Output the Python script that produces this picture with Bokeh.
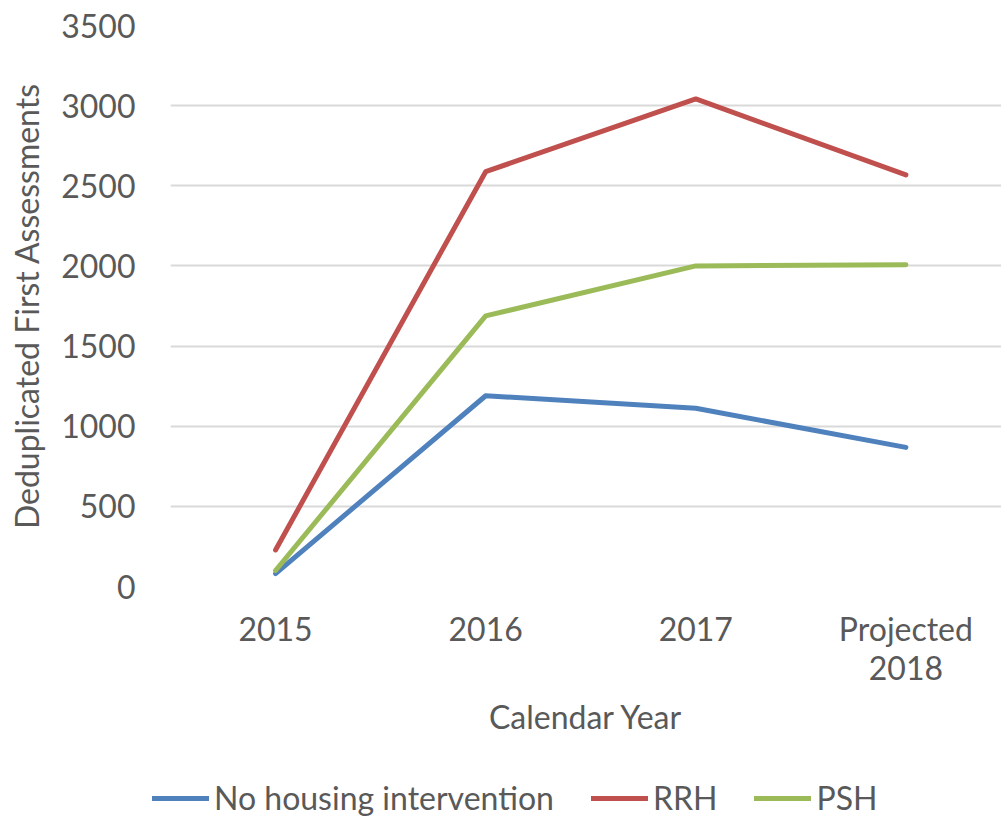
from bokeh.plotting import figure
from bokeh.layouts import column
from bokeh.models import Range1d, Legend, LegendItem, FixedTicker
from bokeh.embed import file_html
from bokeh.resources import INLINE

categories = ["2015", "2016", "2017", "Projected\n2018"]
no_housing = [80, 1190, 1112, 868]
rrh = [228, 2588, 3042, 2568]
psh = [100, 1688, 2000, 2007]
series_names = ["No housing intervention", "RRH", "PSH"]
colors = ["#4F81BD", "#C0504D", "#9BBB59"]
y_ticks = [0, 500, 1000, 1500, 2000, 2500, 3000, 3500]

FONT = "Lato"
TXT = "#595959"
FS = "32px"
xs = list(range(len(categories)))
series = [no_housing, rrh, psh]

p = figure(width=1001, height=754, output_backend="svg", toolbar_location=None,
           x_range=Range1d(-0.5, 3.455), y_range=Range1d(0, 3500),
           min_border_left=170, min_border_right=0, min_border_top=25,
           min_border_bottom=168)
p.outline_line_color = None
p.background_fill_color = "white"
p.border_fill_color = "white"
p.frame_align = False

p.xgrid.grid_line_color = None
p.ygrid.grid_line_color = "#D9D9D9"
p.ygrid.grid_line_width = 2

p.yaxis.ticker = FixedTicker(ticks=y_ticks)
p.xaxis.ticker = FixedTicker(ticks=xs)
p.xaxis.major_label_overrides = {i: c for i, c in enumerate(categories)}
for ax in (p.xaxis[0], p.yaxis[0]):
    ax.axis_line_color = None
    ax.major_tick_line_color = None
    ax.minor_tick_line_color = None
    ax.major_label_text_font = FONT
    ax.major_label_text_font_size = FS
    ax.major_label_text_color = TXT
    ax.axis_label_text_font = FONT
    ax.axis_label_text_font_size = FS
    ax.axis_label_text_color = TXT
    ax.axis_label_text_font_style = "normal"

p.yaxis.major_label_standoff = 29
p.xaxis.major_label_standoff = 16
p.xaxis.major_label_text_line_height = 1.0
p.yaxis.axis_label = "Deduplicated First Assessments"
p.yaxis.axis_label_standoff = 12
p.xaxis.axis_label = "Calendar Year"
p.xaxis.axis_label_standoff = 7

for vals, c in zip(series, colors):
    p.line(xs, vals, line_color=c, line_width=5, line_cap="round", line_join="round")

# legend strip below the chart (its own lines lie outside its empty frame)
lg = figure(width=1001, height=63, output_backend="svg", toolbar_location=None,
            x_axis_type=None, y_axis_type=None,
            x_range=Range1d(0, 1), y_range=Range1d(-1, 0),
            min_border_left=0, min_border_right=0, min_border_top=0, min_border_bottom=0)
lg.outline_line_color = None
lg.grid.visible = False
lg.frame_align = False
items = []
for name, vals, c in zip(series_names, series, colors):
    r = lg.line(xs, vals, line_color=c, line_width=5, line_cap="round")
    items.append(LegendItem(label=name, renderers=[r]))
legend = Legend(items=items, orientation="horizontal", location=(152, 0),
                label_text_font=FONT, label_text_font_size=FS, label_text_color=TXT,
                glyph_width=57, glyph_height=38, label_height=38,
                label_standoff=5, spacing=37,
                border_line_color=None, background_fill_alpha=0,
                margin=0, padding=0)
lg.add_layout(legend, "center")

layout = column(p, lg, spacing=0)
open("out.html", "w").write(file_html(layout, INLINE))
